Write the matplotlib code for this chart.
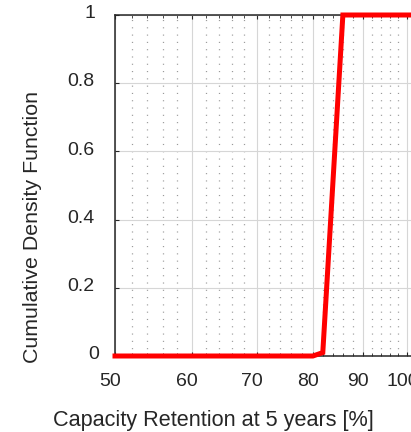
import numpy as np
import matplotlib
matplotlib.use("Agg")
import matplotlib.pyplot as plt
import matplotlib.transforms as mtransforms
from matplotlib.ticker import NullFormatter

plt.rcParams['font.family'] = ['Liberation Sans', 'DejaVu Sans']
plt.rcParams['lines.scale_dashes'] = False

# data
retention = [50, 80, 81.9, 85.9, 110]
cdf = [0, 0, 0.01, 1, 1]

xticks = [50, 60, 70, 80, 90, 100]
xtick_labels = ['50', '60', '70', '80', '90', '100']
xminor = np.arange(50, 112, 2)
yticks = [0, 0.2, 0.4, 0.6, 0.8, 1]
ytick_labels = ['0', '0.2', '0.4', '0.6', '0.8', '1']

W, H = 411, 432
dark = '#262626'

fig = plt.figure(figsize=(W / 100, H / 100), dpi=100)
ax = fig.add_axes([115 / W, (H - 356) / H, (447 - 115) / W, (356 - 15) / H])

ax.plot(retention, cdf, color='#ff0000', lw=3.6, zorder=3, clip_on=False,
        solid_joinstyle='miter')

ax.set_xscale('log')
ax.set_xlim(50, 110)
ax.set_ylim(0, 1)
ax.set_xticks(xticks, labels=xtick_labels)
ax.set_xticks(xminor, minor=True)
ax.xaxis.set_minor_formatter(NullFormatter())
ax.set_yticks(yticks, labels=ytick_labels)

ax.set_axisbelow(True)
ax.grid(True, which='major', color='#d6d6d6', lw=0.8, ls='-')
ax.grid(True, which='minor', axis='x', color='#9a9a9a', lw=0.9,
        linestyle=(0, (0.8, 4.45)))

for s in ['left', 'bottom', 'top']:
    ax.spines[s].set_color(dark)
    ax.spines[s].set_linewidth(1.1)

ax.tick_params(axis='x', which='both', direction='in', top=True, bottom=True,
               colors=dark, labelsize=14, pad=11.9)
ax.tick_params(axis='x', which='major', length=3)
ax.tick_params(axis='x', which='minor', length=2)
ax.tick_params(axis='y', which='major', direction='in', left=True, right=True,
               colors=dark, labelsize=14, pad=15.1, length=3)

# nudge tick labels the way the reference renderer placed them
dx = mtransforms.ScaledTranslation(-4.5 / 100, 0, fig.dpi_scale_trans)
for lab in ax.get_xticklabels():
    lab.set_transform(lab.get_transform() + dx)
for lab in ax.get_yticklabels():
    extra = {'0': 5.0, '1': 1.5}.get(lab.get_text(), 0.0)
    off = mtransforms.ScaledTranslation(extra / 100, 3.3 / 100, fig.dpi_scale_trans)
    lab.set_transform(lab.get_transform() + off)

fig.text(213 / W, 1 - 426 / H, 'Capacity Retention at 5 years [%]',
         ha='center', va='baseline', fontsize=15.6, color=dark)
fig.text(32.5 / W, 1 - 226.7 / H, 'Cumulative Density Function',
         ha='center', va='center', rotation=90, fontsize=15.4, color=dark)

fig.savefig('out.png', dpi=100)
